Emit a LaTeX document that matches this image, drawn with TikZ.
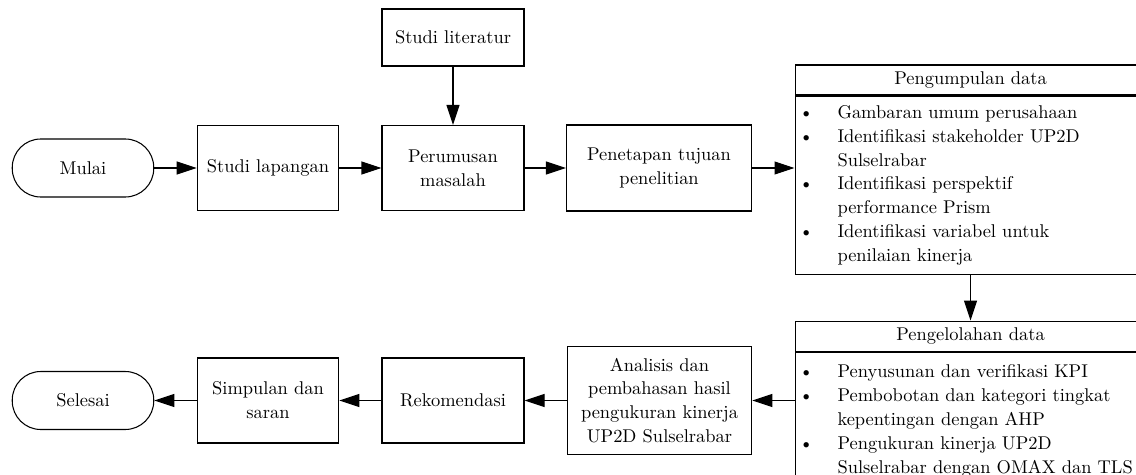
\documentclass[tikz,border=0pt]{standalone}
\usepackage{tikz}
\usetikzlibrary{arrows.meta,positioning}
\newcommand{\butir}{\makebox[0.85cm][l]{\hspace*{0.08cm}\textbullet}}
\newcommand{\lanjut}{\hspace*{0.85cm}}

\begin{document}
\begin{tikzpicture}[font={\fontsize{10.5}{13.6}\selectfont},
    line width=0.6pt,
    kotak/.style={draw, align=center, inner sep=2pt},
    ujung/.style={draw, rounded corners=0.57cm, minimum width=2.83cm, minimum height=1.16cm},
    judul/.style={draw, minimum width=7.02cm, minimum height=0.6cm, inner sep=0pt},
    isi/.style={draw, text width=7.02cm, inner xsep=0pt, align=left},
    panah/.style={-{Triangle[length=0.4cm,width=0.26cm]}}]
    \useasboundingbox (0,0) rectangle (22.72,-9.5);
    % baris atas
    \node[ujung] (mulai) at (1.66,-3.36) {Mulai};
    \node[kotak, minimum width=2.83cm, minimum height=1.70cm] (lapangan) at (5.36,-3.36) {Studi lapangan};
    \node[kotak, minimum width=2.84cm, minimum height=1.14cm] (literatur) at (9.06,-0.75) {Studi literatur};
    \node[kotak, minimum width=2.84cm, minimum height=1.70cm] (rumusan) at (9.06,-3.36) {Perumusan\\masalah};
    \node[kotak, minimum width=3.70cm, minimum height=1.72cm] (tujuan) at (13.18,-3.36) {Penetapan tujuan\\penelitian};
    \node[judul, anchor=north west] (kumpul) at (15.89,-1.29) {Pengumpulan data};
    \node[isi, minimum height=3.57cm, below=0pt of kumpul] (kumpulisi) {%
      \butir Gambaran umum perusahaan\\
      \butir Identifikasi stakeholder UP2D\\
      \lanjut Sulselrabar\\
      \butir Identifikasi perspektif\\
      \lanjut performance Prism\\
      \butir Identifikasi variabel untuk\\
      \lanjut penilaian kinerja};
    % baris bawah
    \node[judul, anchor=north west] (kelola) at (15.89,-6.41) {Pengelolahan data};
    \node[isi, minimum height=2.75cm, below=0pt of kelola] (kelolaisi) {%
      \butir Penyusunan dan verifikasi KPI\\
      \butir Pembobotan dan kategori tingkat\\
      \lanjut kepentingan dengan AHP\\
      \butir Pengukuran kinerja UP2D\\
      \lanjut Sulselrabar dengan OMAX dan TLS};
    \node[kotak, minimum width=3.69cm, minimum height=2.15cm] (analisis) at (13.19,-8.01) {Analisis dan\\pembahasan hasil\\pengukuran kinerja\\UP2D Sulselrabar};
    \node[kotak, minimum width=2.84cm, minimum height=1.70cm] (rekom) at (9.06,-8.01) {Rekomendasi};
    \node[kotak, minimum width=2.83cm, minimum height=1.70cm] (simpulan) at (5.36,-8.01) {Simpulan dan\\saran};
    \node[ujung] (selesai) at (1.66,-8.01) {Selesai};
    % panah
    \draw[panah] (mulai) -- (lapangan);
    \draw[panah] (lapangan) -- (rumusan);
    \draw[panah] (literatur) -- (rumusan);
    \draw[panah] (rumusan) -- (tujuan);
    \draw[panah] (tujuan) -- (tujuan -| kumpulisi.west);
    \draw[panah] (kumpulisi) -- (kelola);
    \draw[panah] (analisis -| kelolaisi.west) -- (analisis);
    \draw[panah] (analisis) -- (rekom);
    \draw[panah] (rekom) -- (simpulan);
    \draw[panah] (simpulan) -- (selesai);
\end{tikzpicture}
\end{document}
